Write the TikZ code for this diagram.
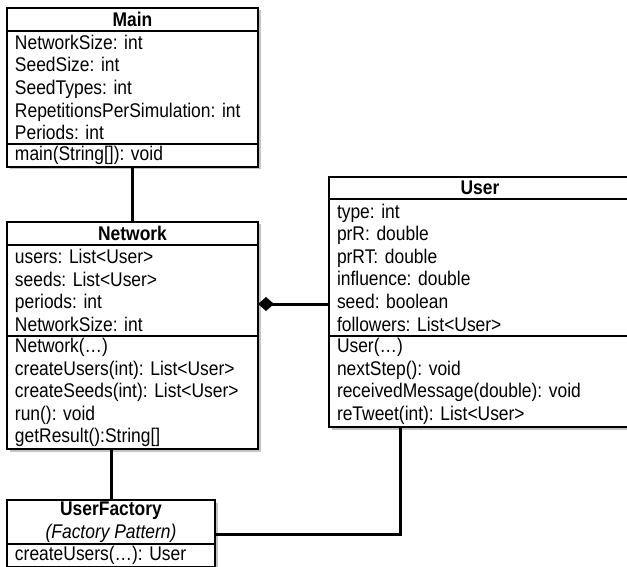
\documentclass[tikz,border=0pt]{standalone}
\usepackage{fontspec}
\setmainfont{Liberation Sans}[FakeStretch=0.88]
\usepackage{tikz}
\usetikzlibrary{positioning, arrows.meta, calc, shadows}
\definecolor{umlLine}{HTML}{000000}
\definecolor{umlShadow}{HTML}{7A7A7A}
\newcommand{\umlfont}{\fontsize{19.8}{22.6}\selectfont\frenchspacing}

\tikzset{
  umlpart/.style={draw=umlLine, line width=1.5pt, fill=white, inner sep=0pt, outer sep=0pt,
    anchor=north west, font=\umlfont,
    drop shadow={shadow xshift=2.5pt, shadow yshift=-2.5pt, fill=umlShadow, opacity=0.45}},
  umltitle/.style 2 args={umlpart, align=center, minimum width=#1, minimum height=#2},
  umlbody/.style 2 args={umlpart, align=left, inner xsep=8pt, text width=#1, minimum height=#2},
  umllink/.style={umlLine, line width=3pt},
}

\begin{document}
\begin{tikzpicture}[x=1pt, y=-1pt]
        \useasboundingbox (0,0) rectangle (627,567);
        \clip (0,0) rectangle (627,567);
        % Main — TOP
        \node[umltitle={251pt}{23pt}, font=\umlfont\bfseries] (main title) at (7,8) {Main};
        \node[umlbody={235pt}{113pt}] (main attr) at (main title.south west)
          {NetworkSize: int\\SeedSize: int\\SeedTypes: int\\RepetitionsPerSimulation: int\\Periods: int};
        \node[umlbody={235pt}{23pt}] (main meth) at (main attr.south west) {main(String[]): void};
        % Network — MIDDLE
        \node[umltitle={251pt}{23pt}, font=\umlfont\bfseries] (net title) at (7,222) {Network};
        \node[umlbody={235pt}{91pt}] (net attr) at (net title.south west)
          {users: List<User>\\seeds: List<User>\\periods: int\\NetworkSize: int};
        \node[umlbody={235pt}{113pt}] (net meth) at (net attr.south west)
          {Network(…)\\createUsers(int): List<User>\\createSeeds(int): List<User>\\run(): void\\getResult():String[]};
        % User — RIGHT
        \node[umltitle={302pt}{22pt}, font=\umlfont\bfseries] (user title) at (329,177) {User};
        \node[umlbody={286pt}{137pt}] (user attr) at (user title.south west)
          {type: int\\prR: double\\prRT: double\\influence: double\\seed: boolean\\followers: List<User>};
        \node[umlbody={286pt}{91pt}] (user meth) at (user attr.south west)
          {User(…)\\nextStep(): void\\receivedMessage(double): void\\reTweet(int): List<User>};
        % UserFactory — BOTTOM
        \node[umltitle={208pt}{44pt}] (fac title) at (7,500)
          {\textbf{UserFactory}\\\textit{(Factory Pattern)}};
        \node[umlbody={192pt}{23pt}] (fac meth) at (fac title.south west) {createUsers(…): User};
        % links
        \coordinate (user comp) at ($(user attr.south west)+(0,-32)$);
        \coordinate (user out) at ($(user meth.south west)+(71,0)$);
        \coordinate (fac in) at ($(fac title.south east)+(0,-10)$);
        \draw[umllink] (main meth.south) -- (net title.north);
        \draw[umllink] (fac title.north) -- (fac title.north |- net meth.south);
        \draw[umllink, -{Diamond[length=16pt, width=14pt]}] (user comp) -- (user comp -| net attr.east);
        \draw[umllink] (user out) |- (fac in);
      \end{tikzpicture}
\end{document}
